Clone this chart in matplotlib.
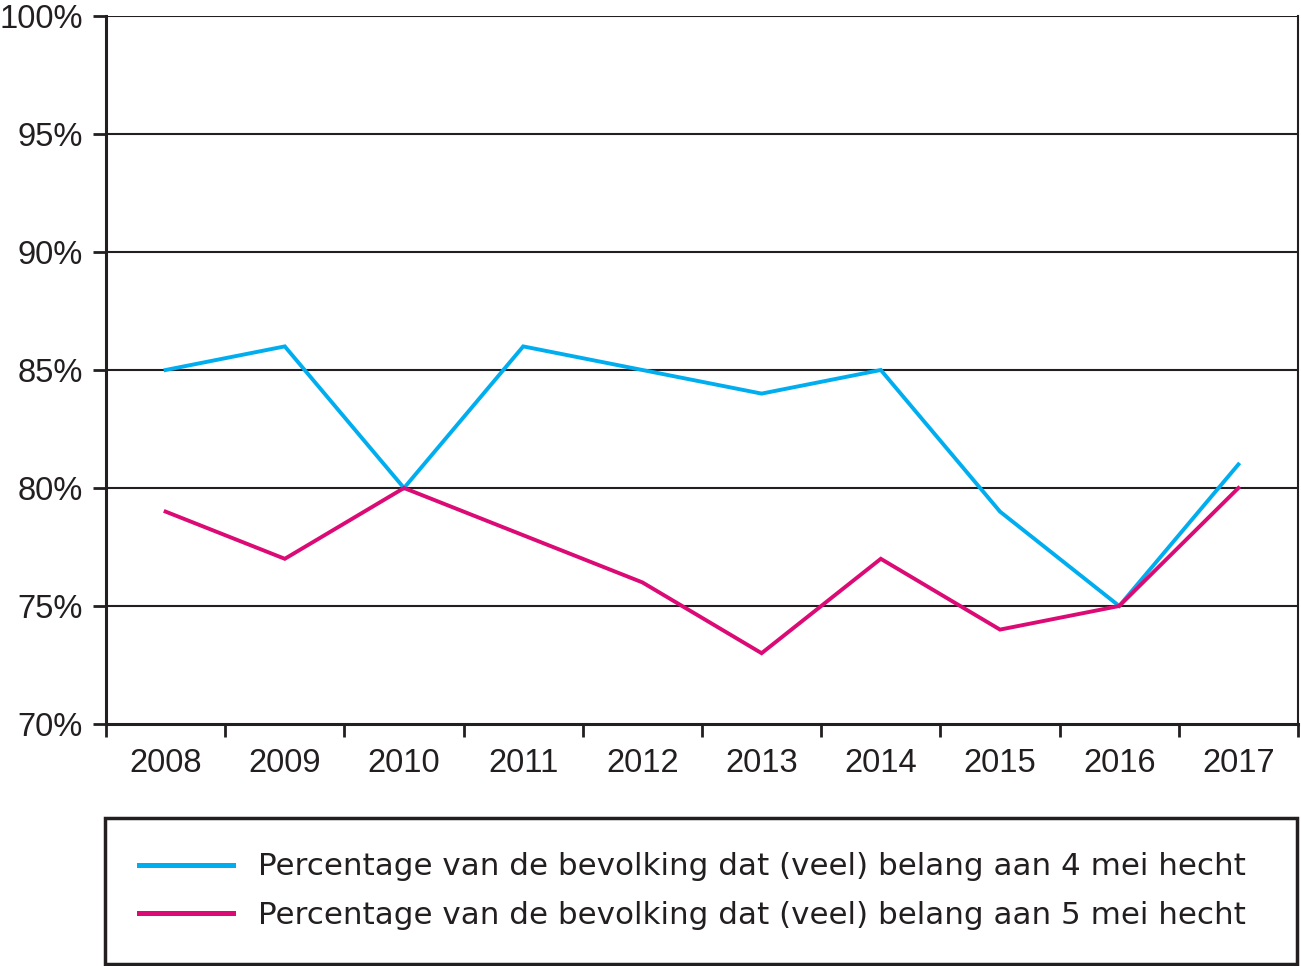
import matplotlib
matplotlib.use("Agg")
import matplotlib.pyplot as plt
from matplotlib.ticker import FixedLocator, NullFormatter

years = ["2008", "2009", "2010", "2011", "2012", "2013", "2014", "2015", "2016", "2017"]
mei4 = [85, 86, 80, 86, 85, 84, 85, 79, 75, 81]
mei5 = [79, 77, 80, 78, 76, 73, 77, 74, 75, 80]
label4 = "Percentage van de bevolking dat (veel) belang aan 4 mei hecht"
label5 = "Percentage van de bevolking dat (veel) belang aan 5 mei hecht"
yticks = [70, 75, 80, 85, 90, 95, 100]

c4 = "#00aeef"
c5 = "#db0a75"
ink = "#231f20"

plt.rcParams['font.family'] = ['Liberation Sans', 'DejaVu Sans']

W, H = 1301, 966
fig = plt.figure(figsize=(W / 100, H / 100), dpi=100)
ax = fig.add_axes([106 / W, 1 - 724 / H, (1298 - 106) / W, (724 - 16) / H])

x = list(range(len(years)))
l4, = ax.plot(x, mei4, color=c4, lw=2.8, label=label4, solid_joinstyle='miter')
l5, = ax.plot(x, mei5, color=c5, lw=2.8, label=label5, solid_joinstyle='miter')

ax.set_xlim(-0.5, len(years) - 0.5)
ax.set_ylim(70, 100)
ax.set_yticks(yticks)
ax.set_yticklabels([f"{v}%" for v in yticks], fontsize=23.5, color=ink)
for v in yticks[1:]:
    ax.axhline(v, color=ink, lw=1.5, zorder=0)

ax.set_xticks(x)
ax.set_xticklabels(years, fontsize=23.5, color=ink)
ax.tick_params(axis='x', which='major', length=0, pad=17)
ax.xaxis.set_minor_locator(FixedLocator([i - 0.5 for i in range(len(years) + 1)]))
ax.xaxis.set_minor_formatter(NullFormatter())
ax.tick_params(axis='x', which='minor', length=9.5, width=2, color=ink, direction='out')
ax.tick_params(axis='y', length=9.5, width=2, color=ink, pad=7)

ax.spines['top'].set_visible(False)
for s in ['left', 'bottom', 'right']:
    ax.spines[s].set_linewidth(2.2)
    ax.spines[s].set_color(ink)
ax.spines['right'].set_linewidth(1.5)

leg = fig.legend(handles=[l4, l5], loc='lower left',
                 bbox_to_anchor=(105 / W, 1 - 964 / H, (1297 - 105) / W, (964 - 819) / H),
                 mode='expand', prop={'family': ['DejaVu Sans'], 'size': 22.3},
                 frameon=True, fancybox=False, framealpha=1,
                 edgecolor=ink, borderpad=1.1, handlelength=3.04,
                 handletextpad=0.8, labelspacing=0.63, borderaxespad=0)
leg.get_frame().set_linewidth(2.5)
for t in leg.get_texts():
    t.set_color(ink)
for h in leg.get_lines():
    h.set_linewidth(3.6)

fig.savefig("out.png", dpi=100)
